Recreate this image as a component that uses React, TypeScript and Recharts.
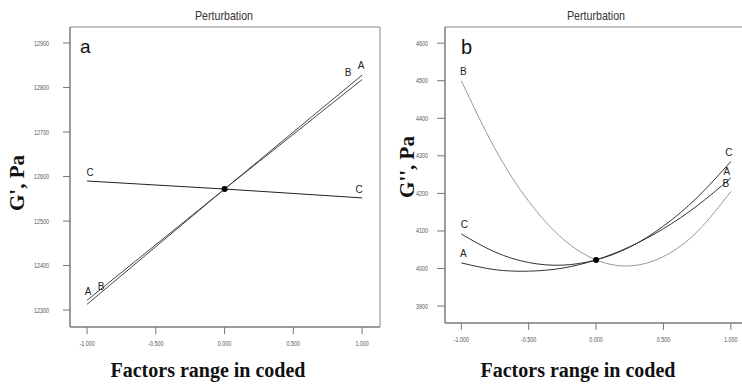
import { LineChart, Line, XAxis, YAxis, ReferenceDot, ReferenceArea } from 'recharts';

// coded factor levels
const codedX = [-1, 0, 1];
const codedXCurve = [-1, -0.75, -0.5, -0.25, 0, 0.25, 0.5, 0.75, 1];
const xTicks = [-1, -0.5, 0, 0.5, 1];

// panel a: G'
const gPrimeA = [12313, 12572, 12828];
const gPrimeB = [12322, 12572, 12818];
const gPrimeC = [12590, 12572, 12552];
const gPrimeTicks = [12300, 12400, 12500, 12600, 12700, 12800, 12900];
const gPrimeCenter = 12572;

// panel b: G''
const gDoubleA = [4015, 3997, 3993, 4001, 4023, 4058, 4106, 4167, 4241];
const gDoubleB = [4500, 4319, 4179, 4080, 4023, 4007, 4032, 4098, 4205];
const gDoubleC = [4092, 4044, 4016, 4009, 4023, 4057, 4113, 4189, 4285];
const gDoubleTicks = [3900, 4000, 4100, 4200, 4300, 4400, 4500, 4600];
const gDoubleCenter = 4023;

const dataA = codedX.map((x, i) => ({ x, A: gPrimeA[i], B: gPrimeB[i], C: gPrimeC[i] }));
const dataB = codedXCurve.map((x, i) => ({ x, A: gDoubleA[i], B: gDoubleB[i], C: gDoubleC[i] }));

const sans = "'Liberation Sans', Arial, sans-serif";
const serif = "'Liberation Serif', 'Times New Roman', serif";

type Off = { dx: number; dy: number };

// squeezed tick text, the original uses a condensed face
const NarrowTick = (props: any) => {
  const { x, y, payload, textAnchor, orientation } = props;
  const label = orientation === 'bottom' ? payload.value.toFixed(3) : String(payload.value);
  return (
    <g transform={`translate(${x},${y}) scale(0.72,1)`}>
      <text x={0} y={0} dy={orientation === 'bottom' ? 6 : 2.5} textAnchor={textAnchor} fontSize={7.5} fill="#555" fontFamily={sans}>
        {label}
      </text>
    </g>
  );
};

const endLabel = (name: string, lastIndex: number, first: Off, last: Off) => (props: any) => {
  const { x, y, index } = props;
  if (index !== 0 && index !== lastIndex) return null;
  const o = index === 0 ? first : last;
  return (
    <text key={`${name}-${index}`} x={x + o.dx} y={y + o.dy} fontSize={10} fill="#222" fontFamily={sans} textAnchor="middle">
      {name}
    </text>
  );
};

export default function App() {
  return (
    <div style={{ position: 'absolute', left: 0, top: 0, width: 742, height: 386, overflow: 'hidden', background: '#fff' }}>
      {/* panel a */}
      <div style={{ position: 'absolute', left: 0, top: 0 }}>
        <LineChart width={390} height={360} data={dataA} margin={{ top: 27, right: 10, bottom: 0, left: 10 }}>
          <XAxis dataKey="x" type="number" domain={[-1.124, 1.13]} ticks={xTicks}
            allowDataOverflow height={33} tick={<NarrowTick />} tickSize={7} tickMargin={6} stroke="#777" interval={0} />
          <YAxis type="number" domain={[12262, 12936]} ticks={gPrimeTicks} allowDataOverflow width={60}
            tick={<NarrowTick />} tickSize={7} tickMargin={14} stroke="#777" interval={0} />
          <ReferenceArea x1={-1.124} x2={1.13} y1={12262} y2={12936} fill="none" stroke="#888" strokeWidth={1} ifOverflow="visible" />
          <Line type="linear" dataKey="A" stroke="#444" strokeWidth={1} dot={false} isAnimationActive={false}
            label={endLabel('A', 2, { dx: 1, dy: -9 }, { dx: -1, dy: -6 })} />
          <Line type="linear" dataKey="B" stroke="#444" strokeWidth={1} dot={false} isAnimationActive={false}
            label={endLabel('B', 2, { dx: 14, dy: -10 }, { dx: -14, dy: -4 })} />
          <Line type="linear" dataKey="C" stroke="#222" strokeWidth={1} dot={false} isAnimationActive={false}
            label={endLabel('C', 2, { dx: 3, dy: -5 }, { dx: -3, dy: -5 })} />
          <ReferenceDot x={0} y={gPrimeCenter} r={3} fill="#000" stroke="none" />
        </LineChart>
      </div>
      {/* panel b */}
      <div style={{ position: 'absolute', left: 380, top: 0 }}>
        <LineChart width={372} height={360} data={dataB} margin={{ top: 27, right: 5, bottom: 0, left: 5 }}>
          <XAxis dataKey="x" type="number" domain={[-1.121, 1.12]} ticks={xTicks}
            allowDataOverflow height={37} tick={<NarrowTick />} tickSize={7} tickMargin={6} stroke="#777" interval={0} />
          <YAxis type="number" domain={[3855, 4643]} ticks={gDoubleTicks} allowDataOverflow width={60}
            tick={<NarrowTick />} tickSize={8} tickMargin={9} stroke="#777" interval={0} />
          <ReferenceArea x1={-1.121} x2={1.12} y1={3855} y2={4643} fill="none" stroke="#888" strokeWidth={1} ifOverflow="visible" />
          <Line type="natural" dataKey="A" stroke="#333" strokeWidth={1} dot={false} isAnimationActive={false}
            label={endLabel('A', 8, { dx: 2, dy: -6 }, { dx: -4, dy: -3 })} />
          <Line type="natural" dataKey="B" stroke="#999" strokeWidth={1} dot={false} isAnimationActive={false}
            label={endLabel('B', 8, { dx: 2, dy: -6 }, { dx: -5, dy: -5 })} />
          <Line type="natural" dataKey="C" stroke="#333" strokeWidth={1} dot={false} isAnimationActive={false}
            label={endLabel('C', 8, { dx: 3, dy: -6 }, { dx: -2, dy: -5 })} />
          <ReferenceDot x={0} y={gDoubleCenter} r={3} fill="#000" stroke="none" />
        </LineChart>
      </div>

      {/* titles */}
      <div style={{ position: 'absolute', left: 124, top: 8, width: 200, textAlign: 'center', fontFamily: sans, fontSize: 13, color: '#333', transform: 'scaleX(0.82)' }}>Perturbation</div>
      <div style={{ position: 'absolute', left: 496, top: 8, width: 200, textAlign: 'center', fontFamily: sans, fontSize: 13, color: '#333', transform: 'scaleX(0.82)' }}>Perturbation</div>
      <div style={{ position: 'absolute', left: 80, top: 36, fontFamily: sans, fontSize: 19, color: '#111' }}>a</div>
      <div style={{ position: 'absolute', left: 461, top: 36, fontFamily: sans, fontSize: 20, color: '#111' }}>b</div>

      {/* axis titles */}
      <div style={{ position: 'absolute', left: 17, top: 183, transform: 'translate(-50%, -50%) rotate(-90deg)', whiteSpace: 'nowrap', fontFamily: serif, fontWeight: 'bold', fontSize: 21, color: '#111' }}>G', Pa</div>
      <div style={{ position: 'absolute', left: 407, top: 167, transform: 'translate(-50%, -50%) rotate(-90deg)', whiteSpace: 'nowrap', fontFamily: serif, fontWeight: 'bold', fontSize: 21, color: '#111' }}>G'', Pa</div>
      <div style={{ position: 'absolute', left: 58, top: 359, width: 300, textAlign: 'center', fontFamily: serif, fontWeight: 'bold', fontSize: 20, color: '#111' }}>Factors range in coded</div>
      <div style={{ position: 'absolute', left: 428, top: 359, width: 300, textAlign: 'center', fontFamily: serif, fontWeight: 'bold', fontSize: 20, color: '#111' }}>Factors range in coded</div>
    </div>
  );
}
